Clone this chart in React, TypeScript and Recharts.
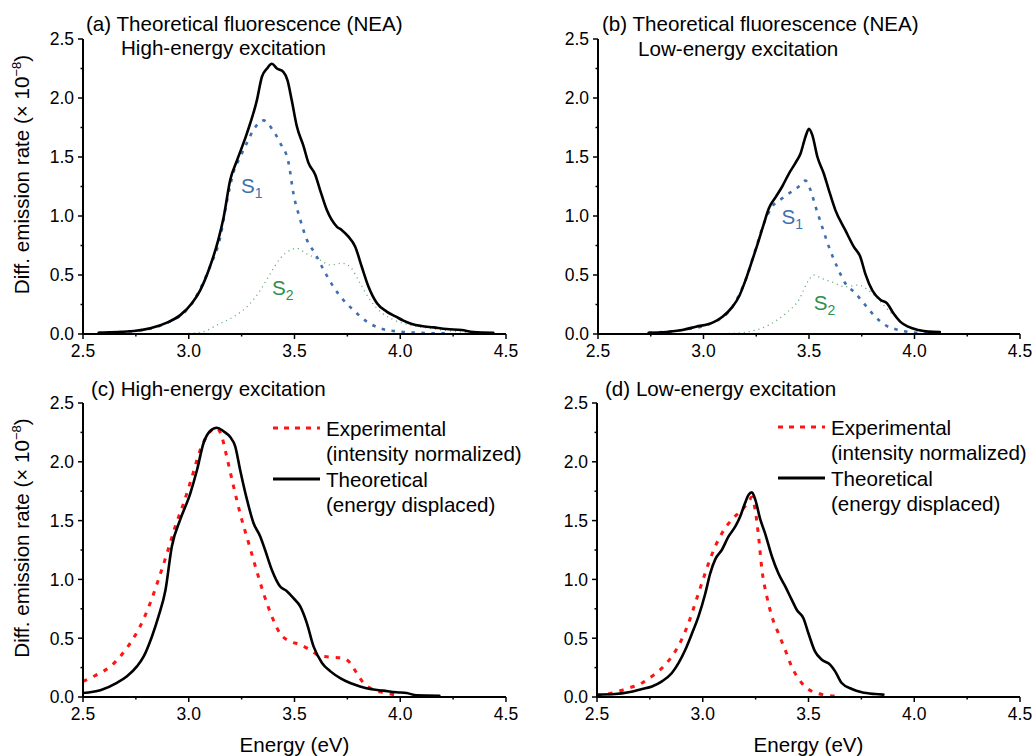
import React from 'react';
import { LineChart, Line, XAxis, YAxis, ReferenceDot, Legend } from 'recharts';

const FONT = '"Liberation Sans", Arial, Helvetica, sans-serif';
const TEXT_SIZE = 20.6;

const BLACK = '#000000';
const BLUE = '#3e6fae';
const GREEN = '#2f8f4e';
const RED = '#ff1414';

const energyTicks = [2.5, 2.75, 3.0, 3.25, 3.5, 3.75, 4.0, 4.25, 4.5];
const rateTicks = [0, 0.25, 0.5, 0.75, 1.0, 1.25, 1.5, 1.75, 2.0, 2.25, 2.5];

// (a) theoretical, high-energy excitation
const aTotalE = [2.574, 2.74, 2.818, 2.897, 2.96, 3.015, 3.054, 3.1, 3.14, 3.165, 3.196, 3.228, 3.275, 3.322, 3.346, 3.37, 3.393, 3.417, 3.448, 3.467, 3.487, 3.511, 3.543, 3.566, 3.598, 3.621, 3.653, 3.7, 3.724, 3.755, 3.787, 3.818, 3.85, 3.89, 3.936, 3.98, 4.015, 4.055, 4.1, 4.157, 4.22, 4.29, 4.346, 4.44];
const aTotalR = [0.011, 0.025, 0.048, 0.096, 0.16, 0.26, 0.37, 0.57, 0.8, 0.99, 1.305, 1.47, 1.7, 1.98, 2.18, 2.25, 2.29, 2.25, 2.22, 2.15, 1.98, 1.76, 1.59, 1.45, 1.35, 1.22, 1.05, 0.91, 0.88, 0.825, 0.74, 0.57, 0.4, 0.26, 0.19, 0.147, 0.113, 0.085, 0.068, 0.056, 0.042, 0.034, 0.017, 0.011];
const aS1E = [2.574, 2.74, 2.9, 3.015, 3.1, 3.149, 3.18, 3.21, 3.243, 3.275, 3.306, 3.354, 3.393, 3.432, 3.472, 3.495, 3.527, 3.558, 3.598, 3.63, 3.684, 3.73, 3.78, 3.842, 3.905, 4.0, 4.09, 4.22];
const aS1R = [0.01, 0.025, 0.096, 0.26, 0.57, 0.82, 1.12, 1.36, 1.5, 1.62, 1.73, 1.81, 1.74, 1.62, 1.45, 1.19, 0.97, 0.8, 0.68, 0.57, 0.4, 0.29, 0.2, 0.105, 0.048, 0.02, 0.01, 0.005];
const aS2E = [3.0, 3.07, 3.133, 3.212, 3.275, 3.338, 3.385, 3.432, 3.48, 3.51, 3.558, 3.62, 3.668, 3.724, 3.763, 3.81, 3.857, 3.905, 3.968, 4.046, 4.14, 4.27, 4.35];
const aS2R = [0.005, 0.02, 0.076, 0.147, 0.23, 0.37, 0.51, 0.64, 0.71, 0.726, 0.68, 0.627, 0.585, 0.6, 0.57, 0.43, 0.29, 0.19, 0.12, 0.076, 0.048, 0.02, 0.01];

// (b) theoretical, low-energy excitation
const bTotalE = [2.74, 2.823, 2.9, 2.964, 3.043, 3.09, 3.137, 3.169, 3.2, 3.232, 3.263, 3.287, 3.31, 3.342, 3.373, 3.405, 3.436, 3.46, 3.483, 3.5, 3.515, 3.54, 3.57, 3.594, 3.625, 3.672, 3.712, 3.743, 3.767, 3.8, 3.838, 3.87, 3.9, 3.932, 3.97, 4.018, 4.066, 4.12];
const bTotalR = [0.011, 0.017, 0.034, 0.062, 0.096, 0.147, 0.23, 0.32, 0.46, 0.63, 0.8, 0.94, 1.065, 1.16, 1.25, 1.36, 1.45, 1.53, 1.67, 1.74, 1.69, 1.5, 1.36, 1.22, 1.05, 0.88, 0.74, 0.655, 0.51, 0.37, 0.29, 0.26, 0.175, 0.105, 0.062, 0.034, 0.02, 0.017];
const bS1E = [2.74, 2.9, 3.043, 3.137, 3.2, 3.247, 3.287, 3.326, 3.373, 3.42, 3.452, 3.483, 3.507, 3.531, 3.562, 3.594, 3.633, 3.672, 3.72, 3.767, 3.814, 3.861, 3.924, 4.003, 4.066];
const bS1R = [0.01, 0.034, 0.096, 0.23, 0.46, 0.72, 0.94, 1.08, 1.15, 1.21, 1.25, 1.3, 1.22, 1.08, 0.91, 0.74, 0.57, 0.43, 0.345, 0.245, 0.147, 0.076, 0.034, 0.011, 0.005];
const bS2E = [3.12, 3.216, 3.31, 3.39, 3.452, 3.5, 3.523, 3.562, 3.61, 3.672, 3.735, 3.782, 3.83, 3.877, 3.924, 3.97, 4.034, 4.097];
const bS2R = [0.005, 0.02, 0.076, 0.175, 0.29, 0.46, 0.5, 0.47, 0.44, 0.4, 0.415, 0.37, 0.29, 0.2, 0.12, 0.062, 0.02, 0.005];

// (c) high-energy excitation: experiment vs. shifted theory
const cExpE = [2.5, 2.566, 2.63, 2.676, 2.724, 2.77, 2.818, 2.857, 2.897, 2.936, 2.976, 3.015, 3.054, 3.094, 3.13, 3.157, 3.18, 3.212, 3.243, 3.283, 3.32, 3.354, 3.393, 3.432, 3.48, 3.527, 3.574, 3.62, 3.668, 3.731, 3.763, 3.794, 3.826, 3.873, 3.936, 3.999];
const cExpR = [0.133, 0.19, 0.26, 0.345, 0.46, 0.6, 0.8, 1.0, 1.22, 1.45, 1.65, 1.87, 2.1, 2.24, 2.29, 2.21, 2.04, 1.79, 1.56, 1.31, 1.08, 0.88, 0.685, 0.54, 0.473, 0.445, 0.4, 0.35, 0.34, 0.33, 0.29, 0.204, 0.119, 0.062, 0.034, 0.006];
const cTheoE = [2.5, 2.582, 2.66, 2.708, 2.755, 2.787, 2.826, 2.857, 2.89, 2.92, 2.96, 3.007, 3.039, 3.07, 3.1, 3.133, 3.164, 3.196, 3.22, 3.243, 3.275, 3.306, 3.338, 3.361, 3.393, 3.432, 3.464, 3.495, 3.527, 3.558, 3.59, 3.63, 3.67, 3.716, 3.763, 3.81, 3.857, 3.92, 3.983, 4.03, 4.078, 4.185];
const cTheoR = [0.034, 0.057, 0.12, 0.176, 0.26, 0.345, 0.515, 0.685, 0.91, 1.28, 1.51, 1.73, 1.93, 2.16, 2.26, 2.29, 2.26, 2.21, 2.13, 1.93, 1.68, 1.48, 1.365, 1.25, 1.08, 0.94, 0.9, 0.84, 0.77, 0.63, 0.43, 0.29, 0.218, 0.161, 0.119, 0.09, 0.068, 0.054, 0.04, 0.034, 0.014, 0.011];

// (d) low-energy excitation: experiment vs. shifted theory
const dExpE = [2.5, 2.571, 2.65, 2.713, 2.76, 2.807, 2.854, 2.9, 2.933, 2.965, 2.996, 3.028, 3.059, 3.09, 3.138, 3.185, 3.217, 3.232, 3.248, 3.264, 3.28, 3.303, 3.327, 3.358, 3.39, 3.42, 3.468, 3.516, 3.58, 3.65];
const dExpR = [0.006, 0.034, 0.076, 0.119, 0.176, 0.246, 0.345, 0.487, 0.63, 0.8, 0.97, 1.14, 1.28, 1.39, 1.51, 1.59, 1.66, 1.7, 1.59, 1.365, 1.08, 0.855, 0.685, 0.54, 0.4, 0.26, 0.119, 0.048, 0.017, 0.006];
const dTheoE = [2.5, 2.587, 2.65, 2.713, 2.76, 2.807, 2.854, 2.886, 2.917, 2.949, 2.98, 3.012, 3.035, 3.059, 3.09, 3.122, 3.154, 3.177, 3.2, 3.217, 3.232, 3.248, 3.272, 3.295, 3.327, 3.358, 3.39, 3.42, 3.445, 3.476, 3.5, 3.53, 3.563, 3.602, 3.626, 3.657, 3.705, 3.752, 3.815, 3.854];
const dTheoR = [0.02, 0.025, 0.04, 0.068, 0.09, 0.133, 0.204, 0.29, 0.4, 0.54, 0.685, 0.88, 1.05, 1.17, 1.25, 1.365, 1.45, 1.535, 1.65, 1.72, 1.74, 1.68, 1.51, 1.39, 1.195, 1.05, 0.94, 0.83, 0.74, 0.67, 0.54, 0.39, 0.317, 0.275, 0.218, 0.119, 0.068, 0.04, 0.025, 0.02];

const pairs = (es: number[], rs: number[]) => es.map((x, i) => ({ x, y: rs[i] }));

type Series = { name: string; data: { x: number; y: number }[]; color: string; width: number; dash?: string; opacity?: number };
type Note = { x: number; y: number; main: string; sub: string; color: string };

const isMajor = (v: number) => Math.abs(v * 2 - Math.round(v * 2)) < 1e-6;

const XTick = (props: any) => {
  const { x, y, payload } = props;
  const v = payload.value as number;
  const major = isMajor(v);
  return (
    <g>
      <line x1={x} x2={x} y1={y} y2={y + (major ? 5 : 2.5)} stroke="#000" strokeWidth={1.5} />
      {major && (
        <text x={x} y={y + 10} dy="0.72em" textAnchor="middle" fontSize={17.5} fontFamily={FONT} fill="#000">
          {v.toFixed(1)}
        </text>
      )}
    </g>
  );
};

const YTick = (props: any) => {
  const { x, y, payload } = props;
  const v = payload.value as number;
  const major = isMajor(v);
  return (
    <g>
      <line x1={x} x2={x - (major ? 5 : 2.5)} y1={y} y2={y} stroke="#000" strokeWidth={1.5} />
      {major && (
        <text x={x - 9} y={y} dy={6.3} textAnchor="end" fontSize={17.5} fontFamily={FONT} fill="#000">
          {v.toFixed(1)}
        </text>
      )}
    </g>
  );
};

const LEGEND_DASH: Record<string, string | undefined> = { Experimental: '5 6' };

const LegendBox = (props: any) => {
  const items = (props.payload || []) as any[];
  return (
    <svg width={270} height={115} style={{ overflow: 'visible', display: 'block' }}>
      {items.map((it, i) => {
        const label = String(it.value);
        const cut = label.indexOf(' (');
        const l1 = label.slice(0, cut);
        const l2 = label.slice(cut + 1);
        const off = i * 51;
        return (
          <g key={label}>
            <line x1={3} x2={50} y1={23 + off} y2={23 + off} stroke={it.color} strokeWidth={3} strokeDasharray={LEGEND_DASH[l1]} />
            <text x={56} y={31 + off} fontSize={TEXT_SIZE} fontFamily={FONT} fill="#000">{l1}</text>
            <text x={56} y={56 + off} fontSize={TEXT_SIZE} fontFamily={FONT} fill="#000">{l2}</text>
          </g>
        );
      })}
    </svg>
  );
};

const noteLabel = (n: Note) => (props: any) => {
  const vb = props.viewBox || {};
  return (
    <text x={vb.x} y={vb.y} fill={n.color} fontSize={TEXT_SIZE} fontFamily={FONT}>
      {n.main}
      <tspan fontSize={14} dy={5}>{n.sub}</tspan>
    </text>
  );
};

type PanelProps = {
  left: number; top: number; width: number; height: number;
  marginRight: number; marginTop: number; yWidth: number; xHeight: number;
  series: Series[]; notes?: Note[]; showXLabel?: boolean; showYLabel?: boolean;
  legendAt?: { left: number; top: number };
};

const Panel = (p: PanelProps) => {
  const plotTop = p.marginTop;
  const plotBottom = p.height - p.xHeight;
  const plotLeft = p.yWidth;
  const plotRight = p.width - p.marginRight;
  return (
    <div style={{ position: 'absolute', left: p.left, top: p.top }}>
      <LineChart width={p.width} height={p.height} margin={{ top: p.marginTop, right: p.marginRight, bottom: 0, left: 0 }} style={{ overflow: 'visible' }}>
        <XAxis
          type="number"
          dataKey="x"
          domain={[2.5, 4.5]}
          ticks={energyTicks}
          interval={0}
          allowDataOverflow
          height={p.xHeight}
          tickSize={0}
          tickMargin={0}
          tickLine={false}
          tick={(t: any) => <XTick {...t} />}
          axisLine={{ stroke: '#000', strokeWidth: 2 }}
          label={
            p.showXLabel
              ? () => (
                  <text x={(plotLeft + plotRight) / 2} y={plotBottom + 55} textAnchor="middle" fontSize={TEXT_SIZE} fontFamily={FONT} fill="#000">
                    Energy (eV)
                  </text>
                )
              : undefined
          }
        />
        <YAxis
          type="number"
          dataKey="y"
          domain={[0, 2.5]}
          ticks={rateTicks}
          interval={0}
          allowDataOverflow
          width={p.yWidth}
          tickSize={0}
          tickMargin={0}
          tickLine={false}
          tick={(t: any) => <YTick {...t} />}
          axisLine={{ stroke: '#000', strokeWidth: 2 }}
          label={
            p.showYLabel
              ? () => {
                  const cy = (plotTop + plotBottom) / 2 - 12;
                  return (
                    <text x={29} y={cy} transform={`rotate(-90, 29, ${cy})`} textAnchor="middle" fontSize={TEXT_SIZE} fontFamily={FONT} fill="#000">
                      Diff. emission rate (× 10
                      <tspan fontSize={13} dy={-8}>−8</tspan>
                      <tspan fontSize={TEXT_SIZE} dy={8}>)</tspan>
                    </text>
                  );
                }
              : undefined
          }
        />
        {p.series.map((s) => (
          <Line
            key={s.name}
            name={s.name}
            data={s.data}
            dataKey="y"
            type="monotone"
            stroke={s.color}
            strokeWidth={s.width}
            strokeDasharray={s.dash}
            strokeOpacity={s.opacity ?? 1}
            strokeLinecap={s.dash ? 'butt' : 'round'}
            dot={false}
            activeDot={false}
            isAnimationActive={false}
          />
        ))}
        {(p.notes || []).map((n) => (
          <ReferenceDot key={n.main + n.sub} x={n.x} y={n.y} r={0} fill="none" stroke="none" ifOverflow="visible" label={noteLabel(n)} />
        ))}
        {p.legendAt && (
          <Legend
            layout="vertical"
            align="center"
            verticalAlign="middle"
            content={(lp: any) => <LegendBox {...lp} />}
            wrapperStyle={{ left: p.legendAt.left, top: p.legendAt.top, width: 270, height: 115 }}
          />
        )}
      </LineChart>
    </div>
  );
};

const titleStyle = { fontSize: TEXT_SIZE, fontFamily: FONT, fill: '#000' };

export default function App() {
  return (
    <div style={{ position: 'absolute', left: 0, top: 0, width: 1033, height: 756, background: '#fff', fontFamily: FONT }}>
      <Panel
        left={0} top={0} width={525} height={370} marginRight={19} marginTop={39} yWidth={83} xHeight={36}
        showYLabel
        series={[
          { name: 'S2', data: pairs(aS2E, aS2R), color: GREEN, width: 1.3, dash: '1 4', opacity: 0.8 },
          { name: 'S1', data: pairs(aS1E, aS1R), color: BLUE, width: 2.6, dash: '3.5 6.5' },
          { name: 'Total', data: pairs(aTotalE, aTotalR), color: BLACK, width: 2.6 },
        ]}
        notes={[
          { x: 3.247, y: 1.195, main: 'S', sub: '1', color: BLUE },
          { x: 3.394, y: 0.33, main: 'S', sub: '2', color: GREEN },
        ]}
      />
      <Panel
        left={515} top={0} width={518} height={370} marginRight={13} marginTop={39} yWidth={83} xHeight={36}
        series={[
          { name: 'S2', data: pairs(bS2E, bS2R), color: GREEN, width: 1.3, dash: '1 4', opacity: 0.8 },
          { name: 'S1', data: pairs(bS1E, bS1R), color: BLUE, width: 2.6, dash: '3.5 6.5' },
          { name: 'Total', data: pairs(bTotalE, bTotalR), color: BLACK, width: 2.6 },
        ]}
        notes={[
          { x: 3.37, y: 0.93, main: 'S', sub: '1', color: BLUE },
          { x: 3.523, y: 0.203, main: 'S', sub: '2', color: GREEN },
        ]}
      />
      <Panel
        left={0} top={370} width={525} height={386} marginRight={19} marginTop={33} yWidth={83} xHeight={59}
        showYLabel showXLabel
        series={[
          { name: 'Experimental (intensity normalized)', data: pairs(cExpE, cExpR), color: RED, width: 3, dash: '4.5 7' },
          { name: 'Theoretical (energy displaced)', data: pairs(cTheoE, cTheoR), color: BLACK, width: 2.6 },
        ]}
        legendAt={{ left: 270, top: 35 }}
      />
      <Panel
        left={515} top={370} width={518} height={386} marginRight={13} marginTop={33} yWidth={82} xHeight={59}
        showXLabel
        series={[
          { name: 'Experimental (intensity normalized)', data: pairs(dExpE, dExpR), color: RED, width: 3, dash: '4.5 7' },
          { name: 'Theoretical (energy displaced)', data: pairs(dTheoE, dTheoR), color: BLACK, width: 2.6 },
        ]}
        legendAt={{ left: 260, top: 34 }}
      />
      <svg width={1033} height={756} style={{ position: 'absolute', left: 0, top: 0, pointerEvents: 'none' }}>
        <text x={86} y={31} {...titleStyle}>(a) Theoretical fluorescence (NEA)</text>
        <text x={121} y={55} {...titleStyle}>High-energy excitation</text>
        <text x={602} y={31} {...titleStyle}>(b) Theoretical fluorescence (NEA)</text>
        <text x={638} y={56} {...titleStyle}>Low-energy excitation</text>
        <text x={91} y={396} {...titleStyle}>(c) High-energy excitation</text>
        <text x={605} y={396} {...titleStyle}>(d) Low-energy excitation</text>
      </svg>
    </div>
  );
}
